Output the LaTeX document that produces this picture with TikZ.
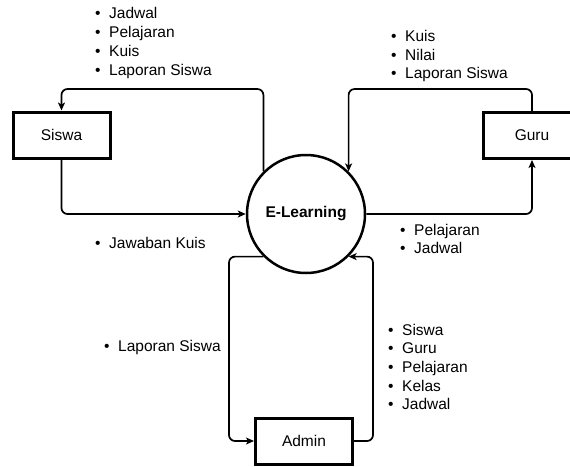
\documentclass[tikz,border=0pt]{standalone}
\usepackage{fontspec}
\setmainfont{Liberation Sans}
\usetikzlibrary{arrows.meta}
\newcommand\itm{\makebox[14pt][l]{•}}
\begin{document}
\begin{tikzpicture}[x=1pt,y=-1pt,
  font=\fontsize{15.5}{18.7}\selectfont,
  ent/.style={draw, line width=3pt, minimum width=97pt, minimum height=46pt, inner sep=0},
  proc/.style={draw, circle, line width=2.5pt, minimum size=118pt, inner sep=0, font=\fontsize{15.5}{18.7}\selectfont\bfseries},
  flow/.style={line width=1.7pt, rounded corners=6pt, -{Stealth[length=8pt,width=7pt,inset=2pt]}},
  lbl/.style={align=left, anchor=west, inner sep=0}
]
\useasboundingbox (0,0) rectangle (570,466);
\clip (0,0) rectangle (570,466);

\node[ent] (siswa) at (61.5,135) {Siswa};
\node[ent] (guru) at (532,135.5) {Guru};
\node[ent] (admin) at (304,441) {Admin};
\node[proc] (el) at (306,214) {E-Learning};

\coordinate (t1) at (0,89);
\coordinate (l5) at (229,0);
\coordinate (r6) at (373,0);

\draw[flow] (el.135) -- (el.135 |- t1) -- (siswa.north |- t1) -- (siswa.north);
\draw[flow] (siswa.south) |- (el.west);
\draw[flow] (guru.north) -- (guru.north |- t1) -- (el.45 |- t1) -- (el.45);
\draw[flow] (el.east) -| (guru.south);
\draw[flow] (el.225) -- (el.225 -| l5) -- (admin.west -| l5) -- (admin.west);
\draw[flow] (admin.east) -- (admin.east -| r6) -- (el.315 -| r6) -- (el.315);

\node[lbl] (tl) at (95,43) {\itm Jadwal\\\itm Pelajaran\\\itm Kuis\\\itm Laporan Siswa};
\node[lbl] (tr) at (391,56) {\itm Kuis\\\itm Nilai\\\itm Laporan Siswa};
\node[lbl] (jk) at (95,243) {\itm Jawaban Kuis};
\node[lbl] (pj) at (400,239) {\itm Pelajaran\\\itm Jadwal};
\node[lbl] (ls) at (104,347) {\itm Laporan Siswa};
\node[lbl] (rl) at (388,367) {\itm Siswa\\\itm Guru\\\itm Pelajaran\\\itm Kelas\\\itm Jadwal};
\end{tikzpicture}
\end{document}
